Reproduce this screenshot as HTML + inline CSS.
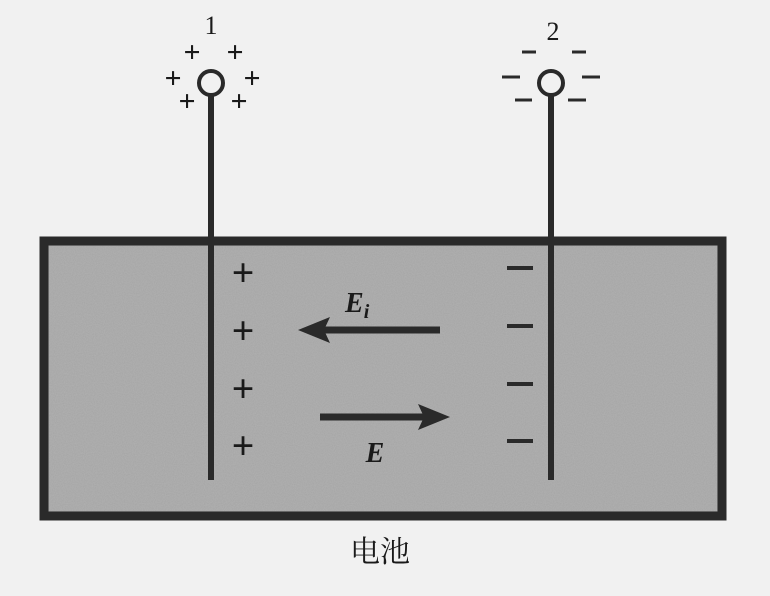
<!DOCTYPE html>
<html>
<head>
<meta charset="utf-8">
<style>
  html,body{margin:0;padding:0;background:#f1f1f1;}
  svg{display:block;}
  text{font-family:"Liberation Serif","Noto Serif CJK SC",serif;fill:#1a1a1a;}
</style>
</head>
<body>
<svg width="770" height="596" viewBox="0 0 770 596">
  <defs>
    <filter id="grain" x="0" y="0" width="100%" height="100%">
      <feTurbulence type="fractalNoise" baseFrequency="0.9" numOctaves="2" seed="3" result="n"/>
      <feColorMatrix type="matrix" values="0 0 0 0 0.6  0 0 0 0 0.6  0 0 0 0 0.6  0 0 0 0.35 0" in="n" result="g"/>
      <feComposite in="g" in2="SourceGraphic" operator="in"/>
    </filter>
  </defs>
  <rect width="770" height="596" fill="#f1f1f1"/>

  <g>
    <rect x="44" y="241" width="678" height="275" fill="#a4a4a4" stroke="#2a2a2a" stroke-width="9"/>
    <rect x="49" y="246" width="668" height="265" fill="#a4a4a4" filter="url(#grain)"/>
  </g>

  <g>
    <line x1="211" y1="96" x2="211" y2="480" stroke="#2a2a2a" stroke-width="6"/>
    <circle cx="211" cy="83" r="12" fill="#f1f1f1" stroke="#2a2a2a" stroke-width="4"/>
  </g>
  <text x="211" y="34" font-size="26" text-anchor="middle">1</text>
  <g font-size="30" font-weight="bold" font-family="Liberation Sans,sans-serif" text-anchor="middle">
    <text x="192" y="62">+</text><text x="235" y="62">+</text>
    <text x="173" y="88">+</text><text x="252" y="88">+</text>
    <text x="187" y="111">+</text><text x="239" y="111">+</text>
  </g>

  <g>
    <line x1="551" y1="96" x2="551" y2="480" stroke="#2a2a2a" stroke-width="6"/>
    <circle cx="551" cy="83" r="12" fill="#f1f1f1" stroke="#2a2a2a" stroke-width="4"/>
  </g>
  <text x="553" y="40" font-size="26" text-anchor="middle">2</text>
  <g stroke="#2a2a2a" stroke-width="3">
    <line x1="522" y1="52" x2="536" y2="52"/><line x1="572" y1="52" x2="586" y2="52"/>
    <line x1="502" y1="77" x2="520" y2="77"/><line x1="582" y1="77" x2="600" y2="77"/>
    <line x1="515" y1="100" x2="532" y2="100"/><line x1="568" y1="100" x2="586" y2="100"/>
  </g>

  <g font-size="40" font-family="Liberation Sans,sans-serif" text-anchor="middle" font-weight="bold">
    <text x="243" y="286" fill="#2a2a2a">+</text>
    <text x="243" y="344" fill="#2a2a2a">+</text>
    <text x="243" y="402" fill="#2a2a2a">+</text>
    <text x="243" y="459" fill="#2a2a2a">+</text>
  </g>
  <g stroke="#2a2a2a" stroke-width="4">
    <line x1="507" y1="268" x2="533" y2="268"/>
    <line x1="507" y1="326" x2="533" y2="326"/>
    <line x1="507" y1="384" x2="533" y2="384"/>
    <line x1="507" y1="441" x2="533" y2="441"/>
  </g>

  <g>
    <line x1="440" y1="330" x2="320" y2="330" stroke="#2a2a2a" stroke-width="7"/>
    <polygon points="298,330 330,317 324,330 330,343" fill="#2a2a2a"/>
  </g>
  <text x="345" y="312" font-size="28" font-style="italic" font-weight="bold">E<tspan font-size="20" dy="6">i</tspan></text>

  <g>
    <line x1="320" y1="417" x2="428" y2="417" stroke="#2a2a2a" stroke-width="7"/>
    <polygon points="450,417 418,404 424,417 418,430" fill="#2a2a2a"/>
  </g>
  <text x="375" y="462" font-size="28" font-style="italic" font-weight="bold" text-anchor="middle">E</text>

  <text x="380" y="562" font-size="30" text-anchor="middle" font-family="Liberation Sans,Noto Sans CJK SC,sans-serif">电池</text>
</svg>
</body>
</html>
